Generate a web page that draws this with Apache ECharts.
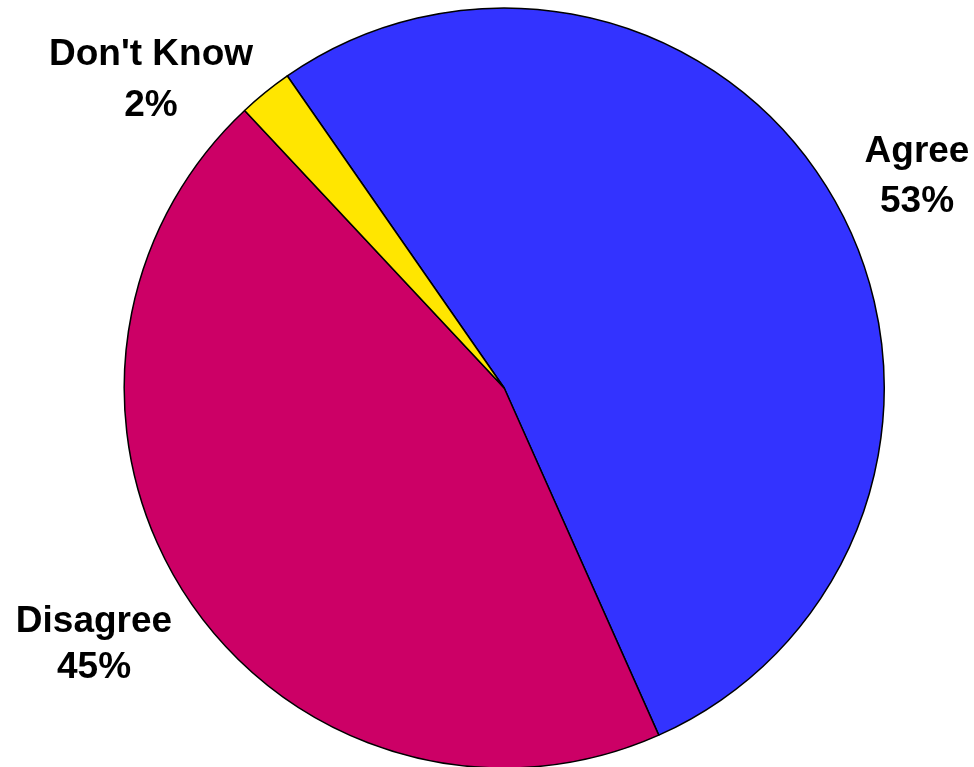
<!DOCTYPE html>
<html>
<head>
<meta charset="utf-8">
<script src="https://cdn.jsdelivr.net/npm/echarts@6/dist/echarts.min.js"></script>
<style>html,body{margin:0;padding:0;background:#fff}#c{width:974px;height:767px}</style>
</head>
<body>
<div id="c"></div>
<script>
const categories = ["Agree", "Disagree", "Don't Know"];
const values = [53.0, 44.7, 2.3];
const colors = ["#3333FF", "#CC0066", "#FFE600"];

const labelPos = [[917, 177, 50], [94, 645, 46], [151, 80, 51]];

const chart = echarts.init(document.getElementById('c'), null, {renderer: 'canvas'});
chart.setOption({
  animation: false,
  series: [{
    type: 'pie',
    center: [504.2, 388],
    radius: 380,
    startAngle: 124.8,
    clockwise: true,
    percentPrecision: 0,
    data: categories.map((c, i) => ({
      name: c,
      value: values[i],
      itemStyle: {color: colors[i]},
      label: {lineHeight: labelPos[i][2]}
    })),
    itemStyle: {borderColor: '#000', borderWidth: 1.5},
    emphasis: {disabled: true},
    label: {
      show: true,
      position: 'outside',
      formatter: '{b}\n{d}%',
      fontFamily: '"Liberation Sans", Arial, sans-serif',
      fontWeight: 'bold',
      fontSize: 37,
      color: '#000',
      align: 'center',
      overflow: 'none'
    },
    labelLine: {show: false},
    labelLayout: function (p) {
      const lp = labelPos[p.dataIndex];
      return {x: lp[0], y: lp[1], align: 'center', verticalAlign: 'middle'};
    }
  }]
});
</script>
</body>
</html>
